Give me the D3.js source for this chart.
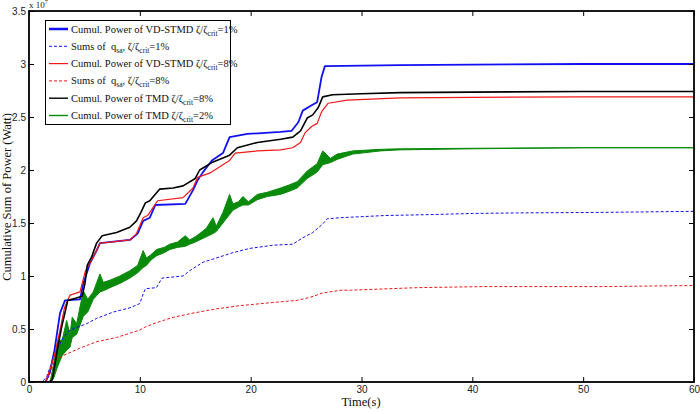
<!DOCTYPE html>
<html>
<head>
<meta charset="utf-8">
<script src="https://cdn.jsdelivr.net/npm/d3@7"></script>
<style>
  body { margin: 0; background: #fff; }
  svg { display: block; font-family: "Liberation Serif", "Times New Roman", serif; }
  .axis text { font-size: 10px; fill: #222; }
</style>
</head>
<body>
<div id="chart"></div>
<script>
// data vars (power in units of 1e7 W)
const xTicks = [0, 10, 20, 30, 40, 50, 60];
const yTicks = [0, 0.5, 1, 1.5, 2, 2.5, 3, 3.5];

const vd1T = [0, 1.5, 1.9, 2.3, 2.8, 3.25, 4.6, 4.9, 5.1, 5.5, 6.1, 6.4, 9.1, 9.8, 10.3, 10.9, 11.4, 14.1, 14.8, 15.2, 15.7, 16.5, 17.5, 18.1, 19.7, 22.7, 23.7, 24.3, 24.7, 25.5, 26.0, 26.4, 26.7, 33.5, 40, 50, 60];
const vd1V = [0, 0, 0.1, 0.3, 0.65, 0.77, 0.78, 0.93, 0.99, 1.12, 1.24, 1.31, 1.34, 1.40, 1.52, 1.55, 1.67, 1.68, 1.81, 1.90, 1.98, 2.09, 2.16, 2.31, 2.34, 2.36, 2.37, 2.45, 2.56, 2.61, 2.64, 2.88, 2.98, 2.99, 2.995, 3.0, 3.0];

const sum1T = [0, 1.2, 1.6, 2.2, 2.8, 3.1, 3.7, 5.2, 6.1, 7.6, 9.1, 10.0, 10.3, 10.5, 11.5, 12.0, 13.9, 14.5, 15.7, 16.9, 18.4, 19.9, 22.0, 23.8, 24.7, 25.6, 26.5, 26.9, 28.1, 32, 36.5, 40, 44, 51.5, 60];
const sum1V = [0, 0, 0.05, 0.23, 0.36, 0.42, 0.49, 0.55, 0.60, 0.66, 0.70, 0.74, 0.83, 0.88, 0.89, 0.98, 1.0, 1.05, 1.13, 1.17, 1.22, 1.26, 1.29, 1.30, 1.36, 1.41, 1.49, 1.54, 1.55, 1.57, 1.58, 1.59, 1.595, 1.60, 1.61];

const vd8T = [0, 1.5, 1.9, 2.3, 2.8, 3.2, 3.7, 4.6, 5.1, 5.8, 6.4, 7.3, 9.1, 9.7, 10.3, 10.7, 11.6, 13.9, 14.8, 15.2, 16.3, 18.1, 18.6, 20.6, 22.7, 23.8, 24.5, 24.9, 25.5, 26.0, 26.4, 27.0, 28.7, 33.5, 40, 50, 60];
const vd8V = [0, 0, 0.12, 0.25, 0.49, 0.7, 0.82, 0.85, 1.05, 1.18, 1.31, 1.32, 1.34, 1.40, 1.55, 1.57, 1.71, 1.74, 1.83, 1.93, 1.97, 2.09, 2.16, 2.18, 2.19, 2.21, 2.26, 2.35, 2.41, 2.44, 2.55, 2.63, 2.66, 2.68, 2.685, 2.69, 2.69];

const sum8T = [0, 1.4, 1.8, 2.3, 3.1, 4.6, 6.1, 7.9, 9.1, 10.0, 10.5, 11.5, 12.1, 13.0, 14.8, 16.9, 19.0, 22.0, 24.2, 25.4, 26.5, 28.1, 29, 35, 41, 51.5, 60];
const sum8V = [0, 0, 0.05, 0.2, 0.25, 0.32, 0.38, 0.42, 0.46, 0.49, 0.52, 0.56, 0.58, 0.61, 0.65, 0.69, 0.72, 0.75, 0.77, 0.80, 0.84, 0.865, 0.866, 0.89, 0.90, 0.90, 0.91];

const tmd8T = [0, 1.8, 2.1, 2.6, 2.95, 3.5, 4.2, 4.8, 5.05, 5.25, 5.65, 6.1, 6.6, 7.9, 9.1, 9.7, 10.1, 10.5, 10.9, 11.8, 13.0, 13.9, 15.0, 15.4, 16.5, 18.1, 18.8, 20.6, 22.7, 23.8, 24.5, 25.1, 25.6, 26.1, 26.5, 27.4, 30, 33.5, 40, 50, 60];
const tmd8V = [0, 0, 0.02, 0.33, 0.52, 0.77, 0.79, 0.81, 0.93, 1.1, 1.18, 1.31, 1.38, 1.41, 1.46, 1.52, 1.6, 1.69, 1.71, 1.82, 1.83, 1.85, 1.92, 2.0, 2.07, 2.14, 2.21, 2.26, 2.29, 2.31, 2.37, 2.49, 2.52, 2.59, 2.69, 2.71, 2.72, 2.73, 2.735, 2.74, 2.74];

// TMD 2% oscillates, drawn as a band between its low and high envelopes
const tmd2T  = [0, 1.9, 2.2, 2.6, 3.0, 3.4, 3.7, 3.9, 4.3, 4.9, 5.3, 5.8, 6.4, 6.7, 7.3, 8.2, 9.1, 9.8, 10.3, 10.6, 11.0, 11.5, 12.2, 12.7, 13.4, 14.1, 14.5, 15.0, 15.4, 16.0, 16.6, 16.9, 17.5, 18.1, 18.4, 18.9, 19.3, 19.8, 20.6, 21.5, 22.7, 23.5, 24.2, 25.1, 26.0, 26.5, 27.2, 27.8, 29.2, 31.7, 33.5, 40, 50, 60];
const tmd2Hi = [0, 0, 0.15, 0.38, 0.4, 0.58, 0.45, 0.61, 0.55, 0.86, 0.78, 0.85, 1.02, 0.94, 0.96, 1.0, 1.05, 1.1, 1.24, 1.17, 1.2, 1.25, 1.27, 1.30, 1.32, 1.38, 1.34, 1.37, 1.40, 1.45, 1.55, 1.47, 1.6, 1.77, 1.68, 1.70, 1.75, 1.70, 1.77, 1.79, 1.83, 1.86, 1.89, 1.99, 2.06, 2.18, 2.11, 2.15, 2.18, 2.195, 2.20, 2.205, 2.21, 2.21];
const tmd2Lo = [0, 0, 0.03, 0.15, 0.25, 0.3, 0.33, 0.42, 0.45, 0.62, 0.66, 0.78, 0.85, 0.86, 0.89, 0.93, 0.98, 1.03, 1.08, 1.10, 1.15, 1.19, 1.22, 1.25, 1.27, 1.28, 1.30, 1.32, 1.34, 1.37, 1.40, 1.42, 1.50, 1.58, 1.62, 1.65, 1.67, 1.67, 1.72, 1.75, 1.77, 1.80, 1.83, 1.92, 1.98, 2.05, 2.07, 2.10, 2.15, 2.18, 2.19, 2.2, 2.21, 2.21];

// constants
const width = 700;
const height = 414;
const margin = { top: 11, right: 6, bottom: 32, left: 29 };

const blue = "#1010f0";
const red = "#f01818";
const green = "#0a8a0a";

const svg = d3.select("#chart")
  .append("svg")
  .attr("width", width)
  .attr("height", height);

const x = d3.scaleLinear()
  .domain([0, 60])
  .range([margin.left, width - margin.right]);

const y = d3.scaleLinear()
  .domain([0, 3.5])
  .range([height - margin.bottom, margin.top]);

svg.append("clipPath")
  .attr("id", "plotClip")
  .append("rect")
  .attr("x", margin.left)
  .attr("y", margin.top)
  .attr("width", width - margin.left - margin.right)
  .attr("height", height - margin.top - margin.bottom);

const plot = svg.append("g").attr("clip-path", "url(#plotClip)");

const zip = (ts, vs) => ts.map((t, i) => ({ t: t, v: vs[i] }));
const line = d3.line().x(d => x(d.t)).y(d => y(d.v));

// green band
const band = d3.area()
  .x((t, i) => x(t))
  .y0((t, i) => y(tmd2Lo[i]))
  .y1((t, i) => y(tmd2Hi[i]));

plot.append("path")
  .attr("d", band(tmd2T))
  .attr("fill", green)
  .attr("stroke", green)
  .attr("stroke-width", 1);

const series = [
  { t: sum8T, v: sum8V, color: red, width: 1, dash: "3,2" },
  { t: sum1T, v: sum1V, color: blue, width: 1, dash: "3,2" },
  { t: vd1T, v: vd1V, color: blue, width: 1.8, dash: null },
  { t: vd8T, v: vd8V, color: red, width: 1.2, dash: null },
  { t: tmd8T, v: tmd8V, color: "#000", width: 1.6, dash: null }
];

series.forEach(s => {
  plot.append("path")
    .attr("d", line(zip(s.t, s.v)))
    .attr("fill", "none")
    .attr("stroke", s.color)
    .attr("stroke-width", s.width)
    .attr("stroke-dasharray", s.dash)
    .attr("stroke-linejoin", "round");
});

// axes, ticks pointing inward on all sides
const xAxis = g => g
  .attr("class", "axis")
  .attr("transform", `translate(0, ${ height - margin.bottom })`)
  .call(d3.axisBottom(x).tickValues(xTicks).tickSize(-5).tickPadding(4).tickFormat(d => d))
  .call(g => g.select(".domain").remove());

const yAxis = g => g
  .attr("class", "axis")
  .attr("transform", `translate(${ margin.left }, 0)`)
  .call(d3.axisLeft(y).tickValues(yTicks).tickSize(-5).tickPadding(3).tickFormat(d => d))
  .call(g => g.select(".domain").remove());

const topAxis = g => g
  .attr("transform", `translate(0, ${ margin.top })`)
  .call(d3.axisTop(x).tickValues(xTicks).tickSize(-5).tickFormat(""))
  .call(g => g.select(".domain").remove());

const rightAxis = g => g
  .attr("transform", `translate(${ width - margin.right }, 0)`)
  .call(d3.axisRight(y).tickValues(yTicks).tickSize(-5).tickFormat(""))
  .call(g => g.select(".domain").remove());

svg.append("g").call(xAxis);
svg.append("g").call(yAxis);
svg.append("g").call(topAxis);
svg.append("g").call(rightAxis);

svg.append("rect")
  .attr("x", margin.left)
  .attr("y", margin.top)
  .attr("width", width - margin.left - margin.right)
  .attr("height", height - margin.top - margin.bottom)
  .attr("fill", "none")
  .attr("stroke", "#000")
  .attr("stroke-width", 1.8);

// exponent label
const expo = svg.append("text")
  .attr("x", margin.left)
  .attr("y", 8)
  .attr("font-size", 9)
  .attr("fill", "#222");
expo.append("tspan").text("x 10");
expo.append("tspan").attr("font-size", 6).attr("dy", -4).text("7");

// axis titles
svg.append("text")
  .attr("x", 361)
  .attr("y", 406)
  .attr("text-anchor", "middle")
  .attr("font-size", 12.5)
  .attr("fill", "#111")
  .text("Time(s)");

svg.append("text")
  .attr("transform", "translate(11, 197) rotate(-90)")
  .attr("text-anchor", "middle")
  .attr("font-size", 12.5)
  .attr("fill", "#111")
  .text("Cumulative Sum of Power (Watt)");

// legend
const legendItems = [
  { pre: "Cumul. Power of VD-STMD \u03b6/\u03b6", sub0: null, post: "=1%", color: blue, width: 2.5, dash: null },
  { pre: "Sums of \u00a0q", sub0: "sa", mid: ", \u03b6/\u03b6", post: "=1%", color: blue, width: 1, dash: "3,2" },
  { pre: "Cumul. Power of VD-STMD \u03b6/\u03b6", sub0: null, post: "=8%", color: red, width: 1.2, dash: null },
  { pre: "Sums of \u00a0q", sub0: "sa", mid: ", \u03b6/\u03b6", post: "=8%", color: red, width: 1, dash: "3,2" },
  { pre: "Cumul. Power of TMD \u03b6/\u03b6", sub0: null, post: "=8%", color: "#000", width: 1.4, dash: null },
  { pre: "Cumul. Power of TMD \u03b6/\u03b6", sub0: null, post: "=2%", color: green, width: 1.4, dash: null }
];

const legend = svg.append("g");

legend.append("rect")
  .attr("x", 45.5)
  .attr("y", 20.5)
  .attr("width", 185)
  .attr("height", 104)
  .attr("fill", "#fff")
  .attr("stroke", "#000")
  .attr("stroke-width", 1);

legendItems.forEach((d, i) => {
  const ly = 29 + i * 17.3;
  legend.append("line")
    .attr("x1", 49)
    .attr("x2", 68)
    .attr("y1", ly)
    .attr("y2", ly)
    .attr("stroke", d.color)
    .attr("stroke-width", d.width)
    .attr("stroke-dasharray", d.dash);

  const txt = legend.append("text")
    .attr("x", 71)
    .attr("y", ly + 3.5)
    .attr("font-size", 10.5)
    .attr("fill", "#111");
  txt.append("tspan").text(d.pre);
  if (d.sub0) {
    txt.append("tspan").attr("font-size", 7.5).attr("dy", 3).text(d.sub0);
    txt.append("tspan").attr("dy", -3).text(d.mid);
  }
  txt.append("tspan").attr("font-size", 7.5).attr("dy", 3).text("crit");
  txt.append("tspan").attr("dy", -3).text(d.post);
});
</script>
</body>
</html>
